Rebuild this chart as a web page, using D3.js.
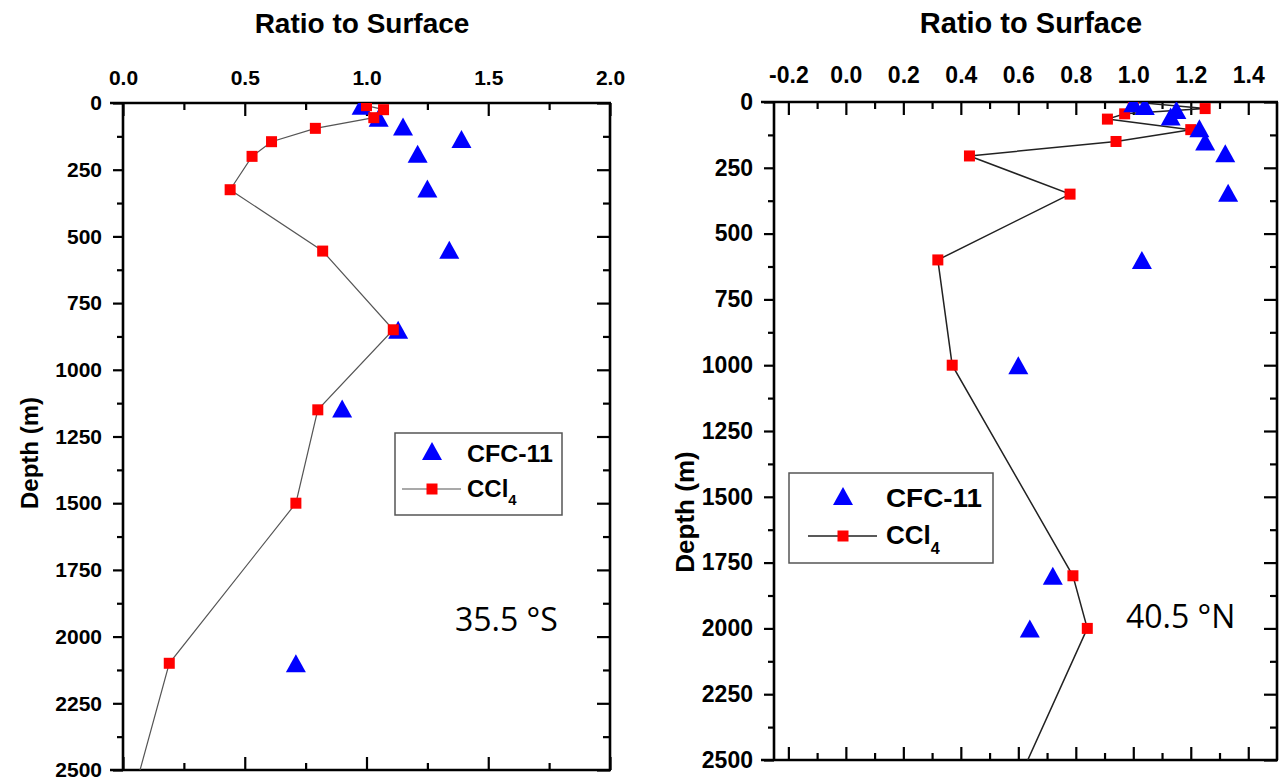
<!DOCTYPE html>
<html><head><meta charset="utf-8">
<script src="https://cdn.jsdelivr.net/npm/d3@7"></script>
<style>
body{margin:0;background:#fff}
svg{display:block}
</style>
</head><body>
<svg id="chart" width="1279" height="784"></svg>
<script>
// ---------- data ----------
const depthTicks = [0, 250, 500, 750, 1000, 1250, 1500, 1750, 2000, 2250, 2500];
const depthMinorTicks = [125, 375, 625, 875, 1125, 1375, 1625, 1875, 2125, 2375];
const leftRatioTicks = [0.0, 0.5, 1.0, 1.5, 2.0];
const leftRatioMinor = [0.25, 0.75, 1.25, 1.75];
const rightRatioTicks = [-0.2, 0.0, 0.2, 0.4, 0.6, 0.8, 1.0, 1.2, 1.4];
const rightRatioMinor = [-0.1, 0.1, 0.3, 0.5, 0.7, 0.9, 1.1, 1.3];

// 35.5 °S
const leftCfcRatio = [0.98, 1.05, 1.15, 1.39, 1.21, 1.25, 1.34, 1.13, 0.90, 0.71];
const leftCfcDepth = [10, 55, 88, 135, 190, 320, 550, 850, 1145, 2100];
const leftCclRatio = [1.00, 1.07, 1.03, 0.79, 0.61, 0.53, 0.44, 0.82, 1.11, 0.80, 0.71, 0.19, 0.01];
const leftCclDepth = [10, 25, 55, 95, 145, 200, 325, 555, 850, 1150, 1500, 2100, 2700];

// 40.5 °N
const rightCfcRatio = [1.00, 1.04, 1.15, 1.13, 1.23, 1.25, 1.32, 1.33, 1.03, 0.60, 0.72, 0.64];
const rightCfcDepth = [5, 15, 30, 55, 100, 150, 195, 345, 600, 1000, 1800, 2000];
const rightCclRatio = [1.00, 1.25, 0.97, 0.91, 1.20, 0.94, 0.43, 0.78, 0.32, 0.37, 0.79, 0.84, 0.55];
const rightCclDepth = [0, 25, 45, 65, 105, 150, 205, 350, 600, 1000, 1800, 2000, 2700];

const seriesNames = ["CFC-11", "CCl"];
const titleText = "Ratio to Surface";
const yTitleText = "Depth (m)";

const svg = d3.select("#chart");
const BLUE = "#0000ff", RED = "#ff0000";
const FAM = '"Liberation Sans", Arial, sans-serif';

function triPath(w, h) {
  return `M0,${-h/2}L${w/2},${h/2}L${-w/2},${h/2}Z`;
}

function panel(o) {
  const g = svg.append("g").style("font-family", FAM);
  const x = d3.scaleLinear().domain(o.xDomain).range(o.xRange);
  const y = d3.scaleLinear().domain([0, 2500]).range(o.yRange);
  const x0 = o.xRange[0], x1 = o.xRange[1], y0 = o.yRange[0], y1 = o.yRange[1];

  const clipId = "clip" + o.id;
  svg.append("clipPath").attr("id", clipId).append("rect")
    .attr("x", x0).attr("y", y0).attr("width", x1 - x0).attr("height", y1 - y0);

  // axes
  const top = g.append("g").attr("transform", `translate(0,${y0})`)
    .call(d3.axisTop(x).tickValues(o.xTicks).tickSize(-13).tickPadding(o.topPad)
      .tickFormat(d => d3.format(".1f")(d).replace("\u2212", "-")));
  g.append("g").attr("transform", `translate(0,${y0})`)
    .call(d3.axisTop(x).tickValues(o.xMinor).tickSize(-7).tickFormat(""));
  g.append("g").attr("transform", `translate(0,${y1})`)
    .call(d3.axisBottom(x).tickValues(o.xTicks).tickSize(-13).tickFormat(""));
  g.append("g").attr("transform", `translate(0,${y1})`)
    .call(d3.axisBottom(x).tickValues(o.xMinor).tickSize(-7).tickFormat(""));

  const left = g.append("g").attr("transform", `translate(${x0},0)`)
    .call(d3.axisLeft(y).tickValues(depthTicks).tickSize(10).tickPadding(11)
      .tickFormat(d3.format("d")));
  g.append("g").attr("transform", `translate(${x0},0)`)
    .call(d3.axisLeft(y).tickValues(depthMinorTicks).tickSize(6).tickFormat(""));
  g.append("g").attr("transform", `translate(${x1},0)`)
    .call(d3.axisRight(y).tickValues(depthTicks).tickSize(-13).tickFormat(""));
  g.append("g").attr("transform", `translate(${x1},0)`)
    .call(d3.axisRight(y).tickValues(depthMinorTicks).tickSize(-7).tickFormat(""));

  g.selectAll("g").attr("font-family", null).attr("font-size", null);
  top.selectAll("text").style("font-size", o.tickFont + "px").style("font-weight", "bold")
    .style("font-family", FAM).attr("fill", "#000");
  left.selectAll("text").style("font-size", o.tickFont + "px").style("font-weight", "bold")
    .style("font-family", FAM).attr("fill", "#000");

  g.selectAll(".domain").remove();
  g.selectAll(".tick line").attr("stroke", "#000").attr("stroke-width", 2.2);

  // frame
  const frame = g.append("g").attr("stroke", "#000").attr("stroke-width", 2.6).attr("fill", "none");
  frame.append("line").attr("x1", x0 - 13).attr("x2", x1 + 1).attr("y1", y0).attr("y2", y0);
  frame.append("line").attr("x1", x0 - 13).attr("x2", x1 + 1).attr("y1", y1).attr("y2", y1);
  frame.append("line").attr("x1", x0).attr("x2", x0).attr("y1", y0).attr("y2", y1);
  frame.append("line").attr("x1", x1).attr("x2", x1).attr("y1", y0).attr("y2", y1);

  // titles
  g.append("text").attr("x", o.titleX).attr("y", 33).attr("text-anchor", "middle")
    .style("font-size", o.titleFont + "px").style("font-weight", "bold").text(titleText);
  g.append("text").attr("transform", `translate(${o.yTitleX},${o.yTitleY}) rotate(-90)`)
    .attr("text-anchor", "middle").style("font-size", o.yTitleFont + "px").style("font-weight", "bold")
    .text(yTitleText);

  // data
  const data = g.append("g").attr("clip-path", `url(#${clipId})`);
  const ccl = o.cclRatio.map((r, i) => ({r, d: o.cclDepth[i]}));
  const cfc = o.cfcRatio.map((r, i) => ({r, d: o.cfcDepth[i]}));
  data.append("path").datum(ccl)
    .attr("d", d3.line().x(p => x(p.r)).y(p => y(p.d)))
    .attr("fill", "none").attr("stroke", o.lineColor).attr("stroke-width", o.lineWidth);

  const drawTri = () => data.append("g").selectAll("path").data(cfc).join("path")
    .attr("transform", p => `translate(${x(p.r)},${y(p.d)})`)
    .attr("d", triPath(20, 18)).attr("fill", BLUE);
  const drawSq = () => data.append("g").selectAll("rect").data(ccl).join("rect")
    .attr("x", p => x(p.r) - 5.5).attr("y", p => y(p.d) - 5.5)
    .attr("width", 11).attr("height", 11).attr("fill", RED);
  if (o.squaresOnTop) { drawTri(); drawSq(); } else { drawSq(); drawTri(); }

  // legend
  const L = o.legend;
  const lg = g.append("g");
  lg.append("rect").attr("x", L.x).attr("y", L.y).attr("width", L.w).attr("height", L.h)
    .attr("fill", "#fff").attr("stroke", "#555").attr("stroke-width", 1.5);
  lg.append("path").attr("transform", `translate(${L.symX},${L.row1})`)
    .attr("d", triPath(20, 18)).attr("fill", BLUE);
  lg.append("line").attr("x1", L.lineX1).attr("x2", L.lineX2).attr("y1", L.row2).attr("y2", L.row2)
    .attr("stroke", o.lineColor).attr("stroke-width", o.lineWidth);
  lg.append("rect").attr("x", L.symX - 5.5).attr("y", L.row2 - 5.5).attr("width", 11).attr("height", 11)
    .attr("fill", RED);
  lg.append("text").attr("x", L.textX).attr("y", L.base1).style("font-size", L.font + "px")
    .style("font-weight", "bold").attr("textLength", L.len1).attr("lengthAdjust", "spacingAndGlyphs")
    .text(seriesNames[0]);
  const t2 = lg.append("text").attr("x", L.textX).attr("y", L.base2).style("font-size", L.font + "px")
    .style("font-weight", "bold");
  t2.append("tspan").text(seriesNames[1]);
  t2.append("tspan").style("font-size", (L.font * 0.62) + "px").attr("dy", L.subDy).text("4");

  // site label
  g.append("text").attr("x", o.site.x).attr("y", o.site.y)
    .style("font-family", '"Open Sans", "Noto Sans", sans-serif').style("font-size", "32px")
    .attr("fill", "#000").text(o.site.text);
}

panel({
  id: "L", xDomain: [0, 2], xRange: [123, 610], yRange: [103, 770],
  xTicks: leftRatioTicks, xMinor: leftRatioMinor, topPad: 18, tickFont: 21,
  titleX: 362, titleFont: 28, yTitleX: 38, yTitleY: 453, yTitleFont: 24,
  cfcRatio: leftCfcRatio, cfcDepth: leftCfcDepth, cclRatio: leftCclRatio, cclDepth: leftCclDepth,
  lineColor: "#555", lineWidth: 1.2, squaresOnTop: true,
  legend: {x: 395, y: 433, w: 167, h: 82, symX: 432, row1: 451, row2: 489, lineX1: 402, lineX2: 461,
           textX: 467, base1: 462, base2: 497, font: 24, len1: 86, subDy: 8},
  site: {x: 455, y: 631, text: "35.5 °S"}
});

panel({
  id: "R", xDomain: [-0.25, 1.5], xRange: [774, 1277], yRange: [102, 760],
  xTicks: rightRatioTicks, xMinor: rightRatioMinor, topPad: 19, tickFont: 23,
  titleX: 1031, titleFont: 29, yTitleX: 694, yTitleY: 512, yTitleFont: 26,
  cfcRatio: rightCfcRatio, cfcDepth: rightCfcDepth, cclRatio: rightCclRatio, cclDepth: rightCclDepth,
  lineColor: "#222", lineWidth: 1.5, squaresOnTop: false,
  legend: {x: 789, y: 473, w: 204, h: 90, symX: 843, row1: 496, row2: 536, lineX1: 808, lineX2: 877,
           textX: 886, base1: 507, base2: 544, font: 26, len1: 96, subDy: 10},
  site: {x: 1126, y: 628, text: "40.5 °N"}
});
</script>
</body></html>
